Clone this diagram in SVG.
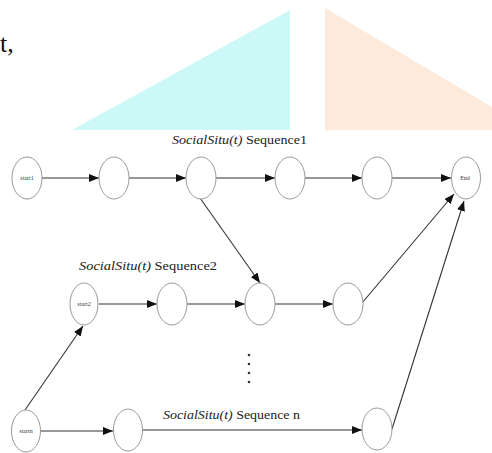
<svg xmlns="http://www.w3.org/2000/svg" width="492" height="453" viewBox="0 0 492 453">
<style>
.node ellipse{fill:#fff;stroke:#9a9a9a;stroke-width:1}
.nl{font-family:"Liberation Serif",serif;font-size:6px;fill:#333;text-anchor:middle}
.edge{stroke:#333;stroke-width:1.1;fill:none;marker-end:url(#ah)}
.lab{font-family:"Liberation Serif",serif;font-size:13.5px;fill:#222}
</style>
<defs>
<marker id="ah" viewBox="0 0 10 8" refX="10" refY="4" markerWidth="10" markerHeight="8" markerUnits="userSpaceOnUse" orient="auto">
<path d="M0,0 L10,4 L0,8 z" fill="#111"/>
</marker>
</defs>
<rect width="492" height="453" fill="#fff"/>
<g id="background">
<polygon points="72,130 290,10 290,130" fill="#cdf8f8"/>
<polygon points="325,8 492,107 492,130 325,130" fill="#fdeadb"/>
<text x="0" y="52" font-family="Liberation Serif, serif" font-size="26" fill="#111">t,</text>
</g>
<g id="connectors">
<line class="edge" x1="42" y1="178" x2="99" y2="178"/>
<line class="edge" x1="129" y1="178" x2="186" y2="178"/>
<line class="edge" x1="216" y1="178" x2="275" y2="178"/>
<line class="edge" x1="305" y1="178" x2="362" y2="178"/>
<line class="edge" x1="392" y1="178" x2="451" y2="178"/>
<line class="edge" x1="200" y1="198" x2="260" y2="283"/>
<line class="edge" x1="99" y1="304" x2="157" y2="304"/>
<line class="edge" x1="187" y1="304" x2="245" y2="304"/>
<line class="edge" x1="275" y1="304" x2="333" y2="304"/>
<line class="edge" x1="362" y1="303" x2="454" y2="194"/>
<line class="edge" x1="392" y1="429" x2="464" y2="201"/>
<line class="edge" x1="25" y1="410" x2="83" y2="326"/>
<line class="edge" x1="41" y1="431" x2="113" y2="431"/>
<line class="edge" x1="143" y1="430" x2="362" y2="430"/>
</g>
<g id="start1" class="node"><ellipse cx="27" cy="178" rx="15" ry="21"/><text class="nl" x="27" y="180">start1</text></g>
<g id="n1_2" class="node"><ellipse cx="114" cy="178" rx="15" ry="21"/></g>
<g id="n1_3" class="node"><ellipse cx="201" cy="178" rx="15" ry="21"/></g>
<g id="n1_4" class="node"><ellipse cx="290" cy="178" rx="15" ry="21"/></g>
<g id="n1_5" class="node"><ellipse cx="377" cy="178" rx="15" ry="21"/></g>
<g id="end" class="node"><ellipse cx="466" cy="178" rx="14.5" ry="21"/><text class="nl" x="465" y="180">End</text></g>
<g id="start2" class="node"><ellipse cx="84" cy="304" rx="14" ry="21"/><text class="nl" x="84" y="306">start2</text></g>
<g id="n2_2" class="node"><ellipse cx="172" cy="304" rx="15" ry="21"/></g>
<g id="n2_3" class="node"><ellipse cx="260" cy="304" rx="15" ry="21"/></g>
<g id="n2_4" class="node"><ellipse cx="348" cy="304" rx="15" ry="21"/></g>
<g id="startn" class="node"><ellipse cx="26" cy="431" rx="14.5" ry="21"/><text class="nl" x="26" y="433">startn</text></g>
<g id="nn_2" class="node"><ellipse cx="128" cy="430" rx="14.5" ry="21"/></g>
<g id="nn_3" class="node"><ellipse cx="377" cy="429" rx="15" ry="21"/></g>
<g id="dots" fill="#333">
<circle cx="249" cy="355" r="1.3"/><circle cx="249" cy="364" r="1.3"/><circle cx="249" cy="373" r="1.3"/><circle cx="249" cy="382" r="1.3"/>
</g>
<g id="labels">
<text class="lab" x="172" y="144" textLength="135" lengthAdjust="spacingAndGlyphs"><tspan font-style="italic">SocialSitu(t)</tspan> Sequence1</text>
<text class="lab" x="79" y="270" textLength="138" lengthAdjust="spacingAndGlyphs"><tspan font-style="italic">SocialSitu(t)</tspan> Sequence2</text>
<text class="lab" x="163" y="419" textLength="137" lengthAdjust="spacingAndGlyphs"><tspan font-style="italic">SocialSitu(t)</tspan> Sequence n</text>
</g>
</svg>
